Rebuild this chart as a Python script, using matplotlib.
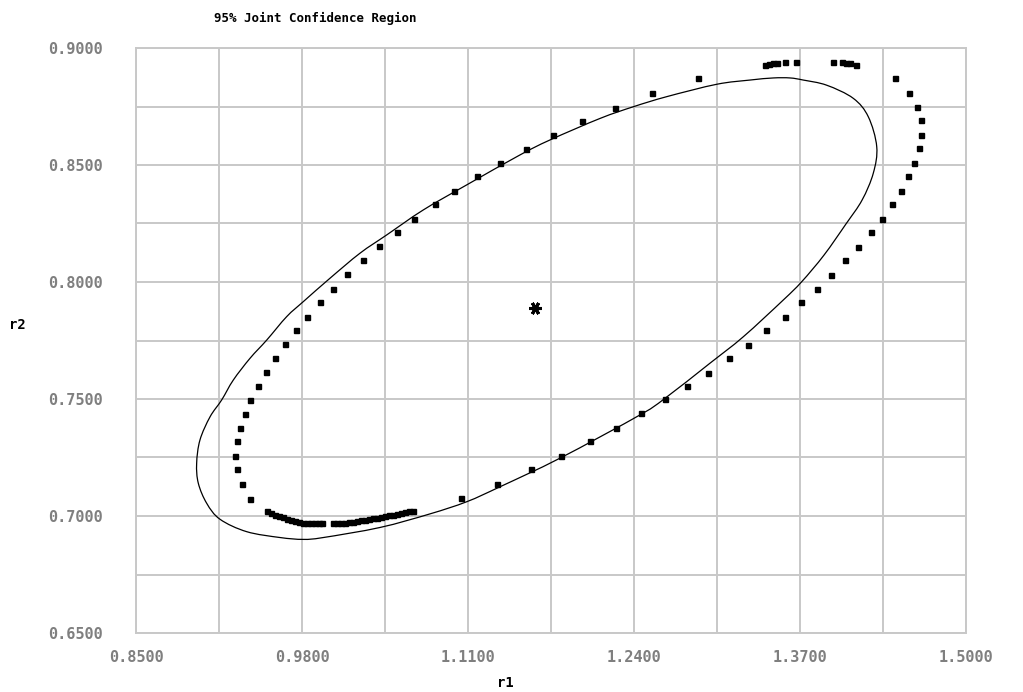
import matplotlib
matplotlib.use("Agg")
import matplotlib.pyplot as plt
from matplotlib.path import Path
from matplotlib.patches import PathPatch

# Boundary of the 95% joint confidence region (linearised approximation)
region_r1 = [1.4301, 1.4235, 1.4117, 1.3909, 1.3726, 1.3622, 1.3491, 1.3308, 1.3048, 1.2656,
             1.2395, 1.2134, 1.1742, 1.1507, 1.1090, 1.0750, 1.0463, 1.0254, 1.0019, 0.9810,
             0.9680, 0.9524, 0.9393, 0.9262, 0.9171, 0.9080, 0.9001, 0.8975, 0.8988, 0.9054,
             0.9158, 0.9367, 0.9628, 0.9810, 0.9967, 1.0411, 1.0802, 1.1090, 1.1351, 1.1820,
             1.2447, 1.2643, 1.2995, 1.3256, 1.3569, 1.3713, 1.3888, 1.4060, 1.4186, 1.4274]
region_r2 = [0.8578, 0.8706, 0.8785, 0.8841, 0.8863, 0.8872, 0.8872, 0.8863, 0.8845, 0.8792,
             0.8749, 0.8699, 0.8607, 0.8543, 0.8415, 0.8308, 0.8201, 0.8123, 0.8016, 0.7916,
             0.7852, 0.7752, 0.7674, 0.7581, 0.7496, 0.7424, 0.7325, 0.7225, 0.7140, 0.7054,
             0.6986, 0.6933, 0.6908, 0.6900, 0.6908, 0.6951, 0.7009, 0.7061, 0.7125, 0.7247,
             0.7432, 0.7503, 0.7653, 0.7766, 0.7923, 0.8001, 0.8115, 0.8248, 0.8350, 0.8465]

# Exact (sum-of-squares) contour points
contour_r1 = [1.2905, 1.2541, 1.2254, 1.1990, 1.1766, 1.1554, 1.1353, 1.1168, 1.0990, 1.0839,
              1.0677, 1.0542, 1.0403, 1.0280, 1.0152, 1.0040, 0.9939, 0.9842, 0.9753, 0.9667,
              0.9591, 0.9518, 0.9453, 0.9390, 0.9351, 0.9314, 0.9291, 0.9278, 0.9291, 0.9328,
              0.9390,
              0.9526, 0.9557, 0.9589, 0.9620, 0.9651, 0.9683, 0.9714, 0.9745, 0.9777, 0.9808,
              0.9839, 0.9871, 0.9902, 0.9933, 0.9957,
              1.0043, 1.0074, 1.0105, 1.0137, 1.0168, 1.0199, 1.0231, 1.0262, 1.0293, 1.0325,
              1.0356, 1.0387, 1.0419, 1.0450, 1.0481, 1.0513, 1.0544, 1.0575, 1.0607, 1.0638,
              1.0669,
              1.1043, 1.1329, 1.1591, 1.1828, 1.2055, 1.2257, 1.2455, 1.2639, 1.2815, 1.2979,
              1.3142, 1.3290, 1.3431, 1.3581, 1.3705, 1.3831, 1.3943, 1.4056, 1.4154, 1.4254,
              1.4342, 1.4418, 1.4493, 1.4543, 1.4593, 1.4632, 1.4645, 1.4645, 1.4619, 1.4556,
              1.4444,
              1.4139, 1.4092, 1.4060, 1.4029, 1.3956,
              1.3666, 1.3580, 1.3520, 1.3489, 1.3457, 1.3426]
contour_r2 = [0.8872, 0.8809, 0.8745, 0.8689, 0.8627, 0.8570, 0.8509, 0.8452, 0.8390, 0.8333,
              0.8271, 0.8215, 0.8153, 0.8095, 0.8033, 0.7970, 0.7915, 0.7850, 0.7795, 0.7734,
              0.7677, 0.7614, 0.7556, 0.7496, 0.7437, 0.7376, 0.7319, 0.7258, 0.7201, 0.7138,
              0.7074,
              0.7021, 0.7014, 0.7006, 0.7000, 0.6994, 0.6988, 0.6983, 0.6979, 0.6974, 0.6971,
              0.6969, 0.6968, 0.6968, 0.6968, 0.6968,
              0.6968, 0.6968, 0.6970, 0.6971, 0.6974, 0.6976, 0.6979, 0.6981, 0.6984, 0.6987,
              0.6990, 0.6993, 0.6996, 0.6999, 0.7003, 0.7006, 0.7009, 0.7013, 0.7016, 0.7020,
              0.7023,
              0.7076, 0.7138, 0.7201, 0.7255, 0.7319, 0.7375, 0.7439, 0.7498, 0.7557, 0.7612,
              0.7677, 0.7732, 0.7795, 0.7851, 0.7913, 0.7969, 0.8032, 0.8094, 0.8151, 0.8214,
              0.8270, 0.8332, 0.8389, 0.8452, 0.8507, 0.8571, 0.8627, 0.8691, 0.8747, 0.8809,
              0.8871,
              0.8929, 0.8935, 0.8938, 0.8939, 0.8940,
              0.8940, 0.8940, 0.8936, 0.8934, 0.8932, 0.8927]

# Parameter estimate
best_r1 = [1.1625]
best_r2 = [0.7888]

x_ticks = [0.85, 0.98, 1.11, 1.24, 1.37, 1.50]
y_ticks = [0.65, 0.70, 0.75, 0.80, 0.85, 0.90]
x_grid = [0.85 + 0.065 * i for i in range(11)]
y_grid = [0.65 + 0.025 * i for i in range(11)]


def closed_smooth_path(xs, ys):
    """Closed Catmull-Rom curve through the given points, as cubic Bezier segments."""
    n = len(xs)
    verts = [(xs[0], ys[0])]
    codes = [Path.MOVETO]
    for i in range(n):
        p0 = (xs[i - 1], ys[i - 1])
        p1 = (xs[i], ys[i])
        p2 = (xs[(i + 1) % n], ys[(i + 1) % n])
        p3 = (xs[(i + 2) % n], ys[(i + 2) % n])
        c1 = (p1[0] + (p2[0] - p0[0]) / 6, p1[1] + (p2[1] - p0[1]) / 6)
        c2 = (p2[0] - (p3[0] - p1[0]) / 6, p2[1] - (p3[1] - p1[1]) / 6)
        verts += [c1, c2, p2]
        codes += [Path.CURVE4] * 3
    return Path(verts, codes)


W, H = 1023, 692
fig = plt.figure(figsize=(W / 100, H / 100), dpi=100)
ax = fig.add_axes([136 / W, (H - 633) / H, 830 / W, 585 / H])

grid_col = "#c8c8c8"
label_col = "#7f7f7f"
mono = "DejaVu Sans Mono"

ax.set_xlim(0.85, 1.50)
ax.set_ylim(0.65, 0.90)
for gx in x_grid:
    ax.axvline(gx, color=grid_col, lw=1.4, zorder=0)
for gy in y_grid:
    ax.axhline(gy, color=grid_col, lw=1.4, zorder=0)
for s in ax.spines.values():
    s.set_color(grid_col)
    s.set_linewidth(1.4)

ax.set_xticks(x_ticks)
ax.set_yticks(y_ticks)
ax.set_xticklabels([f"{v:.4f}" for v in x_ticks])
ax.set_yticklabels([f"{v:.4f}" for v in y_ticks])
ax.tick_params(length=0, colors=label_col, labelsize=11)
ax.tick_params(axis="x", pad=12)
ax.tick_params(axis="y", pad=24)
for lab in ax.get_xticklabels() + ax.get_yticklabels():
    lab.set_fontfamily(mono)
    lab.set_fontweight("bold")
    lab.set_color(label_col)

ax.add_patch(PathPatch(closed_smooth_path(region_r1, region_r2), facecolor="none",
                       edgecolor="black", lw=0.9, zorder=3))
ax.plot(contour_r1, contour_r2, linestyle="none", marker="s", markersize=3.6,
        color="black", zorder=4)
ax.plot(best_r1, best_r2, linestyle="none", marker=(6, 2, 90), markersize=9,
        markeredgewidth=2.2, color="black", zorder=5)

fig.text(315 / W, 1 - 18 / H, "95% Joint Confidence Region", ha="center", va="center",
         fontfamily=mono, fontweight="bold", fontsize=9, color="black")
fig.text(505 / W, 1 - 683 / H, "r1", ha="center", va="center",
         fontfamily=mono, fontweight="bold", fontsize=10, color="black")
fig.text(17 / W, 1 - 325 / H, "r2", ha="center", va="center",
         fontfamily=mono, fontweight="bold", fontsize=10, color="black")

fig.savefig("out.png", dpi=100)
